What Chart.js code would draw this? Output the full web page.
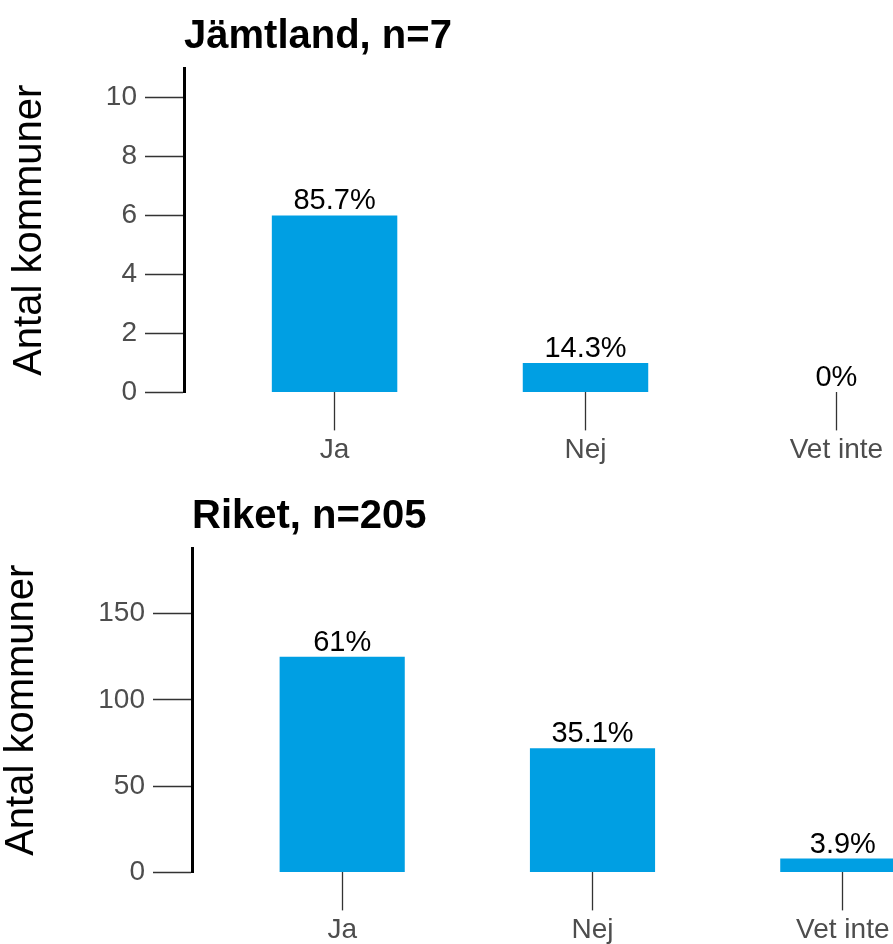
<!DOCTYPE html>
<html>
<head>
<meta charset="utf-8">
<script src="https://cdn.jsdelivr.net/npm/chart.js@4"></script>
<style>
  body { margin: 0; overflow: hidden; background: #fff; }
  .panel { position: absolute; left: 0; }
</style>
</head>
<body>
<div class="panel" style="top:0"><canvas id="chart1" width="1010" height="472"></canvas></div>
<div class="panel" style="top:480px"><canvas id="chart2" width="1010" height="472"></canvas></div>
<script>
// Data
const categories = ["Ja", "Nej", "Vet inte"];
const jamtlandValues = [6, 1, 0];
const jamtlandLabels = ["85.7%", "14.3%", "0%"];
const jamtlandTicks = [0, 2, 4, 6, 8, 10];
const riketValues = [125, 72, 8];
const riketLabels = ["61%", "35.1%", "3.9%"];
const riketTicks = [0, 50, 100, 150];

const FONT = "'Liberation Sans', Arial, sans-serif";
const BAR_COLOR = "#009fe3";

// Draw the percentage text above each bar
const barLabelPlugin = {
    id: "barLabels",
    afterDatasetsDraw(chart, args, opts) {
        const ctx = chart.ctx;
        const meta = chart.getDatasetMeta(0);
        ctx.save();
        ctx.font = "29px " + FONT;
        ctx.fillStyle = "#000";
        ctx.textAlign = "center";
        ctx.textBaseline = "alphabetic";
        meta.data.forEach(function(bar, i) {
            ctx.fillText(opts.labels[i], bar.x, bar.y - 6);
        });
        ctx.restore();
    }
};

function makeChart(id, title, values, labels, yTicks, yMax, axisX, padLeft, titlePad, padRight) {
    const ctx = document.getElementById(id).getContext("2d");
    return new Chart(ctx, {
        type: "bar",
        data: {
            datasets: [{
                data: values.map(function(v, i) { return { x: i, y: v }; }),
                backgroundColor: BAR_COLOR,
                borderWidth: 0,
                barPercentage: 0.5,
                categoryPercentage: 1.0
            }]
        },
        plugins: [barLabelPlugin],
        options: {
            responsive: false,
            animation: false,
            layout: { padding: { left: padLeft, right: padRight, top: 0, bottom: 2 } },
            plugins: {
                legend: { display: false },
                tooltip: { enabled: false },
                title: {
                    display: true,
                    text: title,
                    align: "start",
                    fullSize: false,
                    color: "#000",
                    font: { family: FONT, size: 40, weight: "bold", lineHeight: 1.2 },
                    padding: { top: 13, bottom: 7 }
                },
                barLabels: { labels: labels }
            },
            scales: {
                x: {
                    type: "linear",
                    min: -0.6,
                    max: 2.6,
                    offset: false,
                    grid: { offset: false, drawOnChartArea: false, tickLength: 38, tickColor: "#333", tickWidth: 1.3 },
                    border: { display: false },
                    afterBuildTicks: function(scale) {
                        scale.ticks = categories.map(function(c, i) { return { value: i }; });
                    },
                    ticks: {
                        autoSkip: false,
                        maxRotation: 0,
                        padding: 3,
                        color: "#4d4d4d",
                        font: { family: FONT, size: 28 },
                        callback: function(value) { return categories[value]; }
                    }
                },
                y: {
                    min: 0,
                    max: yMax,
                    afterBuildTicks: function(scale) {
                        scale.ticks = yTicks.map(function(v) { return { value: v }; });
                    },
                    afterFit: function(scale) { scale.width = axisX - padLeft; },
                    grid: { drawOnChartArea: false, tickLength: 39, tickColor: "#333", tickWidth: 1.3 },
                    border: { display: true, color: "#000", width: 3 },
                    ticks: {
                        autoSkip: false,
                        padding: 8,
                        color: "#4d4d4d",
                        font: { family: FONT, size: 28 }
                    },
                    title: {
                        display: true,
                        text: "Antal kommuner",
                        color: "#000",
                        font: { family: FONT, size: 40, lineHeight: 1.0 },
                        padding: { top: titlePad, bottom: 4 }
                    }
                }
            }
        }
    });
}

makeChart("chart1", "Jämtland, n=7", jamtlandValues, jamtlandLabels, jamtlandTicks, 11, 184, 6, 4, 23);
makeChart("chart2", "Riket, n=205", riketValues, riketLabels, riketTicks, 188, 192, 0, 2, 17);
</script>
</body>
</html>
